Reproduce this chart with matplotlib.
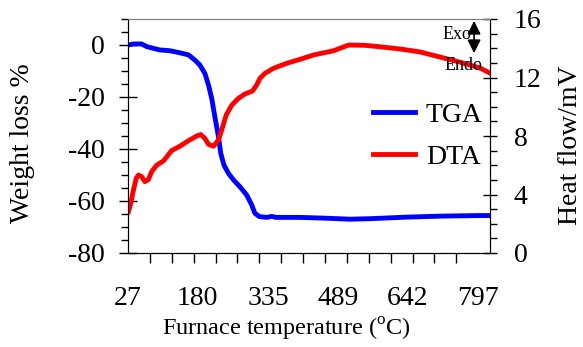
import matplotlib
matplotlib.use("Agg")
import matplotlib.pyplot as plt
import numpy as np

plt.rcParams['font.family'] = ['Liberation Serif', 'DejaVu Serif']
plt.rcParams['mathtext.fontset'] = 'custom'
plt.rcParams['mathtext.rm'] = 'Liberation Serif'
plt.rcParams['axes.unicode_minus'] = False

# TGA data (left axis, weight loss %)
tga_temp = [28, 39, 57, 68, 83, 97, 119, 141, 160, 174, 185, 196, 204, 211, 218, 226,
            231, 238, 248, 259, 273, 288, 299, 306, 316, 332, 343, 352, 405, 460, 515,
            560, 600, 640, 680, 720, 760, 800, 823]
tga_weight = [0, 0.4, 0.4, -0.6, -1.3, -1.9, -2.2, -3.0, -3.8, -5.8, -7.7, -10.9, -15.4,
              -20.5, -27.6, -35.3, -41.7, -46.2, -49.4, -51.9, -54.5, -57.7, -61.5, -64.7,
              -66.0, -66.3, -65.9, -66.3, -66.3, -66.6, -67.0, -66.8, -66.5, -66.2, -66.0,
              -65.8, -65.7, -65.6, -65.6]

# DTA data (right axis, heat flow mV)
dta_temp = [28, 33, 39, 45, 50, 57, 64, 72, 79, 90, 105, 123, 141, 160, 178, 187, 196,
            204, 215, 226, 233, 243, 255, 270, 284, 301, 310, 317, 328, 347, 376, 405,
            435, 479, 512, 548, 581, 625, 669, 713, 757, 801, 823]
dta_heat = [2.82, 3.4, 4.3, 5.1, 5.33, 5.22, 4.88, 5.03, 5.56, 6.0, 6.3, 7.0, 7.3, 7.68,
            8.0, 8.1, 7.84, 7.43, 7.3, 7.73, 8.4, 9.44, 10.1, 10.58, 10.87, 11.08, 11.49,
            11.94, 12.28, 12.63, 12.97, 13.24, 13.54, 13.83, 14.22, 14.2, 14.1, 13.95,
            13.75, 13.4, 13.05, 12.65, 12.3]

x_ticklabels = [27, 180, 335, 489, 642, 797]
left_ticks = [-80, -60, -40, -20, 0]
right_ticks = [0, 4, 8, 12, 16]

fig = plt.figure(figsize=(5.83, 3.47), dpi=100)
ax = fig.add_axes([128/583, 1-253/347, (490-128)/583, (253-19)/347])
ax2 = ax.twinx()

l1, = ax.plot(tga_temp, tga_weight, color='#0000ff', lw=3.5, label='TGA')
l2, = ax2.plot(dta_temp, dta_heat, color='#ff0000', lw=3.5, label='DTA')

ax.set_xlim(27, 823)
ax.set_ylim(-80, 10)
ax2.set_ylim(0, 16)

fs = 20
ax.set_xticks(x_ticklabels)
ax.set_xticklabels([str(v) for v in x_ticklabels])
ax.set_xticks(np.linspace(27, 797, 17), minor=True)
ax.tick_params(axis='x', which='major', length=0, pad=24, labelsize=fs)
ax.tick_params(axis='x', which='minor', length=7, direction='out', width=1)

ax.set_yticks(left_ticks)
ax.set_yticks(np.arange(-80, 11, 5), minor=True)
ax.tick_params(axis='y', which='major', direction='inout', length=13, width=1, pad=10, labelsize=fs)
ax.tick_params(axis='y', which='minor', direction='out', length=5, width=1)

ax2.set_yticks(right_ticks)
ax2.set_yticks(np.arange(0, 17, 1), minor=True)
ax2.tick_params(axis='y', which='major', direction='inout', length=10, width=1, pad=12, labelsize=fs)
ax2.tick_params(axis='y', which='minor', direction='out', length=5, width=1)

for a in (ax, ax2):
    a.spines['top'].set_color('#808080')
    a.spines['top'].set_linewidth(0.8)

ax.set_xlabel(r'Furnace temperature ($^{\rm o}$C)', fontsize=17.5)
ax.xaxis.set_label_coords(0.437, -0.27)
ax.set_ylabel('Weight loss %', fontsize=fs)
ax.yaxis.set_label_coords(-0.257, 0.47)
ax2.set_ylabel('Heat flow/mV', fontsize=fs)
ax2.yaxis.set_label_coords(1.188, 0.46)

leg = ax2.legend([l1, l2], ['TGA', 'DTA'], loc='center left', bbox_to_anchor=(0.677, 0.5),
                 frameon=False, fontsize=20, handlelength=1.5, handletextpad=0.4,
                 borderpad=0, borderaxespad=0, labelspacing=0.6)

ax2.annotate('', xy=(0.956, 1.004), xytext=(0.956, 0.842), xycoords='axes fraction',
             textcoords='axes fraction',
             arrowprops=dict(arrowstyle='<|-|>', color='black', lw=1.2, mutation_scale=20),
             zorder=5)
ax2.text(0.909, 0.932, 'Exo', transform=ax2.transAxes, ha='center', va='center', fontsize=13, zorder=6)
ax2.text(0.928, 0.803, 'Endo', transform=ax2.transAxes, ha='center', va='center', fontsize=13, zorder=6)

fig.savefig('out.png', dpi=100)
